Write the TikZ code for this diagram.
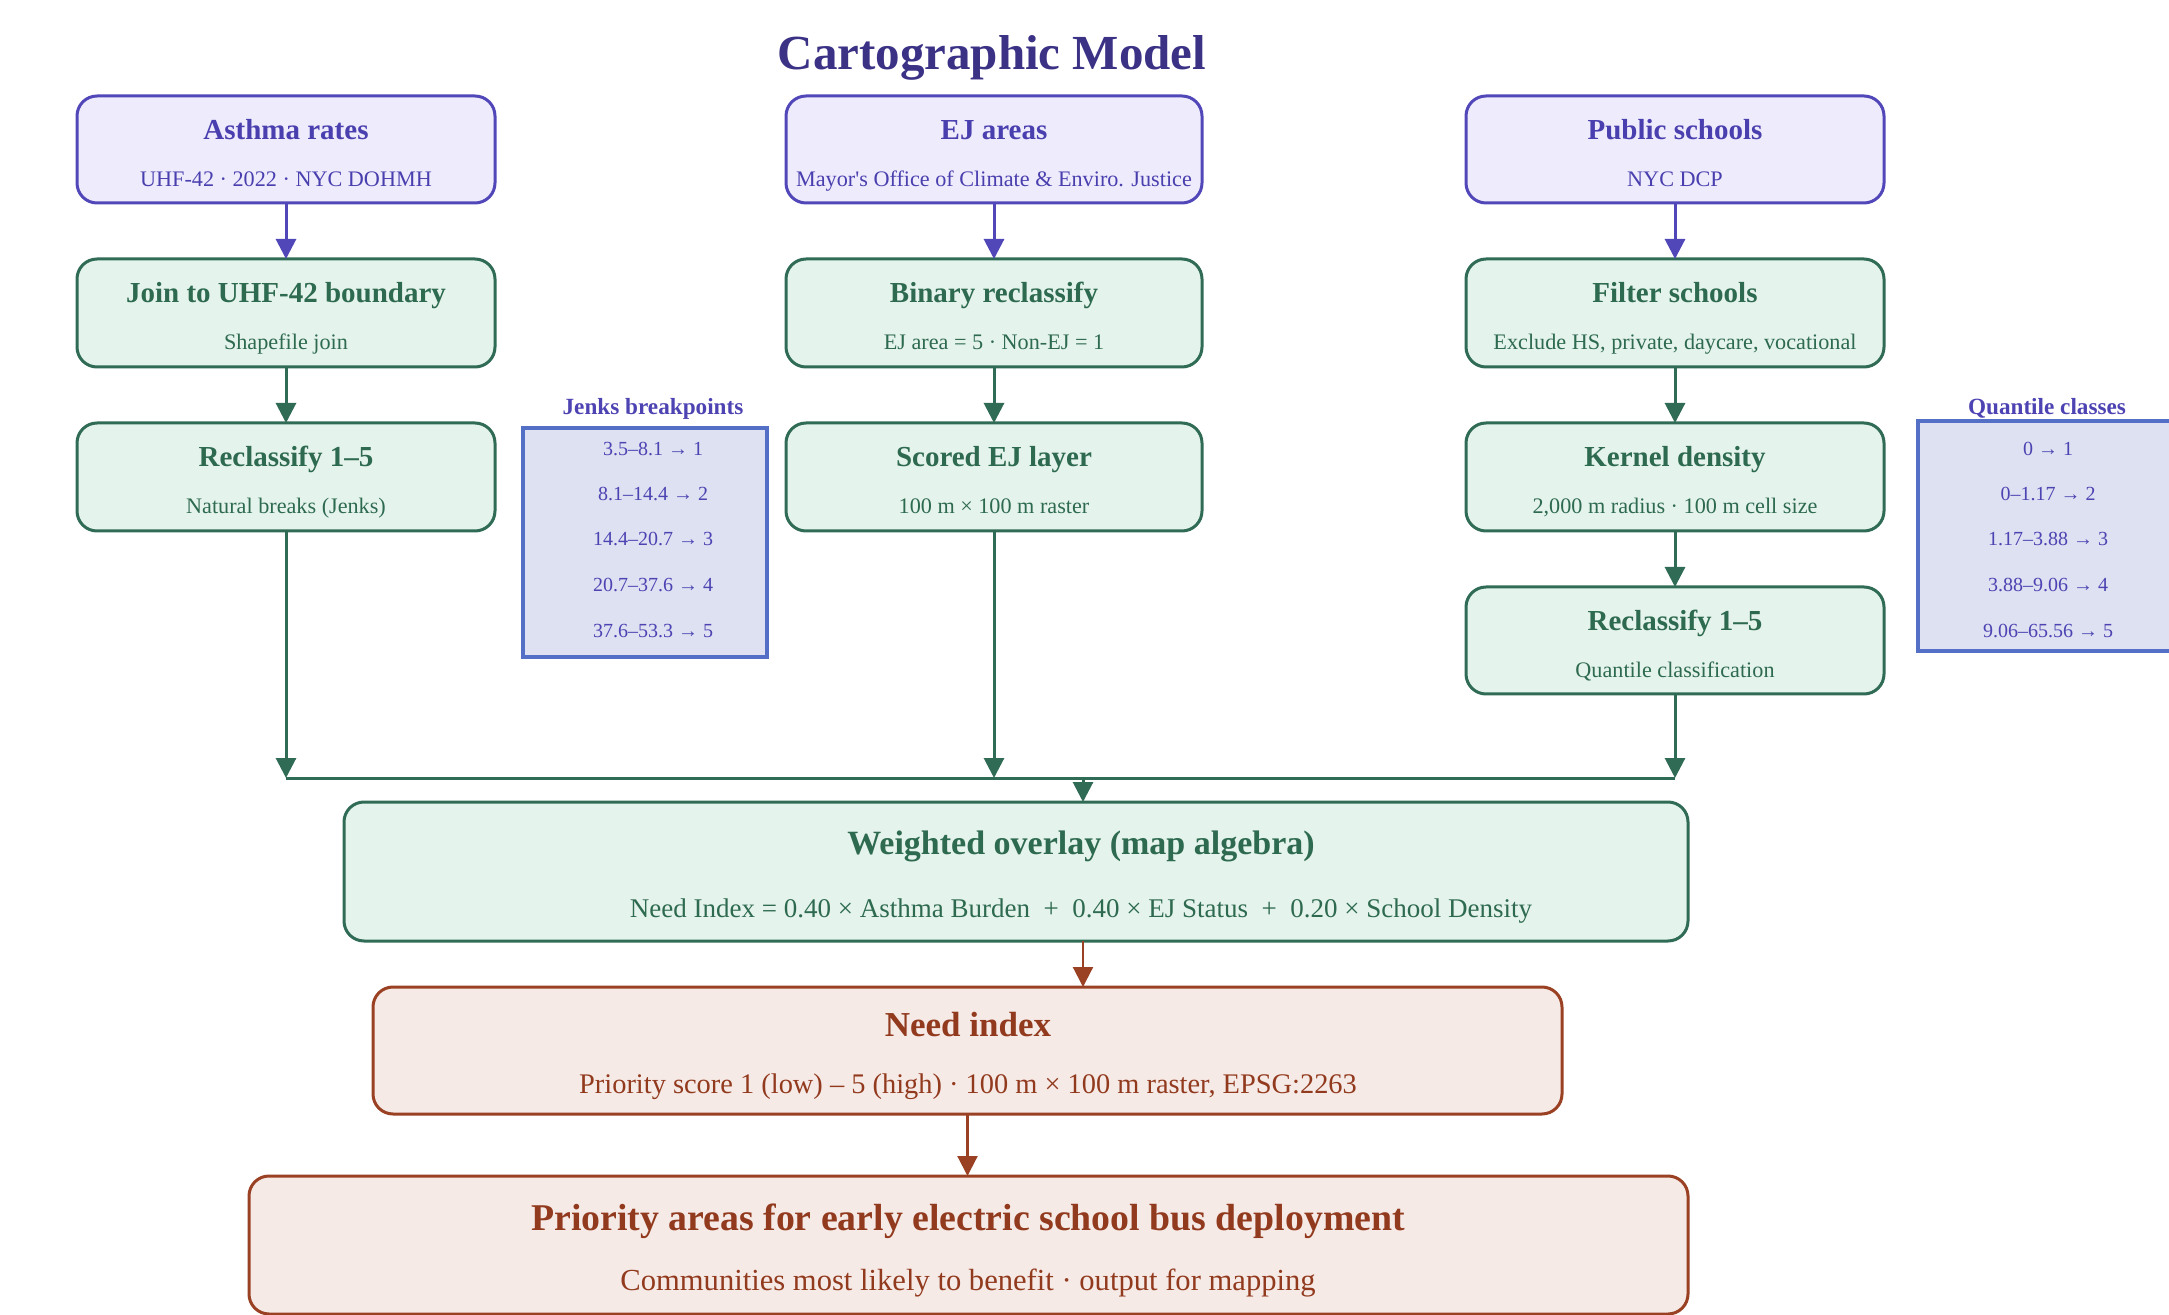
\documentclass[tikz,border=0pt]{standalone}
\usepackage{fontspec}
\setmainfont{Liberation Serif}
\usetikzlibrary{arrows.meta}
\definecolor{pstroke}{HTML}{5247B8}
\definecolor{pfill}{HTML}{EDEBFC}
\definecolor{ptext}{HTML}{4A3FAE}
\definecolor{ttext}{HTML}{3B3286}
\definecolor{gstroke}{HTML}{2F6B55}
\definecolor{gfill}{HTML}{E5F3ED}
\definecolor{gtext}{HTML}{2D6A4F}
\definecolor{rstroke}{HTML}{9A4124}
\definecolor{rfill}{HTML}{F6EAE6}
\definecolor{rtext}{HTML}{923A1E}
\definecolor{lstroke}{HTML}{5470C6}
\definecolor{lfill}{HTML}{DDE1F2}
\definecolor{ltext}{HTML}{4D43B2}
\begin{document}
\begin{tikzpicture}[x=0.5pt,y=-0.5pt,
  box/.style={line width=1.5pt, rounded corners=10pt, inner sep=0pt, outer sep=0pt},
  inbox/.style={box, draw=pstroke, fill=pfill},
  gbox/.style={box, draw=gstroke, fill=gfill},
  rbox/.style={box, draw=rstroke, fill=rfill},
  lgbox/.style={draw=lstroke, fill=lfill, line width=2pt, inner sep=0pt, outer sep=0pt},
  txt/.style={anchor=base, inner sep=0pt},
  ptitle/.style={txt, font=\bfseries\fontsize{14.5}{17}\selectfont, text=ptext},
  psub/.style={txt, font=\fontsize{11.1}{13}\selectfont, text=ptext},
  gtitle/.style={txt, font=\bfseries\fontsize{14.5}{17}\selectfont, text=gtext},
  gsub/.style={txt, font=\fontsize{11.1}{13}\selectfont, text=gtext},
  bigg/.style={txt, font=\bfseries\fontsize{17}{20}\selectfont, text=gtext},
  biggsub/.style={txt, font=\fontsize{13.5}{16}\selectfont, text=gtext},
  bigr/.style={txt, font=\bfseries\fontsize{17.5}{20}\selectfont, text=rtext},
  bigrsub/.style={txt, font=\fontsize{14.2}{17}\selectfont, text=rtext},
  ltitle/.style={txt, font=\bfseries\fontsize{11.6}{13}\selectfont, text=ltext},
  litem/.style={txt, font=\fontsize{10}{12}\selectfont, text=ltext},
  parr/.style={draw=pstroke, line width=1.5pt, -{Triangle[length=10pt,width=10pt]}},
  garr/.style={draw=gstroke, line width=1.5pt, -{Triangle[length=10pt,width=10pt]}},
  gline/.style={draw=gstroke, line width=1.5pt},
  rarr/.style={draw=rstroke, line width=1.1pt, -{Triangle[length=10pt,width=10pt]}},
]
\useasboundingbox (0,0) rectangle (2169,1315);

% title
\node[txt, font=\bfseries\fontsize{24.5}{28}\selectfont, text=ttext] (title) at (992,70) {Cartographic Model};

% left column
\node[inbox, minimum width={418*0.5pt}, minimum height={107*0.5pt}] (asthma) at (286,149.5) {};
\node[ptitle] (asthmaT) at (286,140) {Asthma rates};
\node[psub] (asthmaS) at (286,187) {UHF-42 · 2022 · NYC DOHMH};

\node[gbox, minimum width={418*0.5pt}, minimum height={108*0.5pt}] (join) at (286,313) {};
\node[gtitle] (joinT) at (286,303) {Join to UHF-42 boundary};
\node[gsub] (joinS) at (286,350) {Shapefile join};

\node[gbox, minimum width={418*0.5pt}, minimum height={108*0.5pt}] (recl) at (286,477) {};
\node[gtitle] (reclT) at (286,467) {Reclassify 1–5};
\node[gsub] (reclS) at (286,514) {Natural breaks (Jenks)};

% middle column
\node[inbox, minimum width={416*0.5pt}, minimum height={107*0.5pt}] (ej) at (994,149.5) {};
\node[ptitle] (ejT) at (994,140) {EJ areas};
\node[psub] (ejS) at (994,187) {Mayor\textquotesingle s Office of Climate \& Enviro. Justice};

\node[gbox, minimum width={416*0.5pt}, minimum height={108*0.5pt}] (binary) at (994,313) {};
\node[gtitle] (binaryT) at (994,303) {Binary reclassify};
\node[gsub] (binaryS) at (994,350) {EJ area = 5 · Non-EJ = 1};

\node[gbox, minimum width={416*0.5pt}, minimum height={108*0.5pt}] (scored) at (994,477) {};
\node[gtitle] (scoredT) at (994,467) {Scored EJ layer};
\node[gsub] (scoredS) at (994,514) {100 m × 100 m raster};

% right column
\node[inbox, minimum width={418*0.5pt}, minimum height={107*0.5pt}] (schools) at (1675,149.5) {};
\node[ptitle] (schoolsT) at (1675,140) {Public schools};
\node[psub] (schoolsS) at (1675,187) {NYC DCP};

\node[gbox, minimum width={418*0.5pt}, minimum height={108*0.5pt}] (filter) at (1675,313) {};
\node[gtitle] (filterT) at (1675,303) {Filter schools};
\node[gsub] (filterS) at (1675,350) {Exclude HS, private, daycare, vocational};

\node[gbox, minimum width={418*0.5pt}, minimum height={108*0.5pt}] (kernel) at (1675,477) {};
\node[gtitle] (kernelT) at (1675,467) {Kernel density};
\node[gsub] (kernelS) at (1675,514) {2,000 m radius · 100 m cell size};

\node[gbox, minimum width={418*0.5pt}, minimum height={107*0.5pt}] (recl2) at (1675,640.5) {};
\node[gtitle] (recl2T) at (1675,631) {Reclassify 1–5};
\node[gsub] (recl2S) at (1675,678) {Quantile classification};

% legends
\node[ltitle] (jenksT) at (653,415) {Jenks breakpoints};
\node[lgbox, minimum width={244*0.5pt}, minimum height={229*0.5pt}] (jenks) at (645,542.5) {};
\node[litem] (j1) at (653,456) {3.5–8.1 → 1};
\node[litem] (j2) at (653,501) {8.1–14.4 → 2};
\node[litem] (j3) at (653,546) {14.4–20.7 → 3};
\node[litem] (j4) at (653,592) {20.7–37.6 → 4};
\node[litem] (j5) at (653,638) {37.6–53.3 → 5};

\node[ltitle] (quantT) at (2047,415) {Quantile classes};
\node[lgbox, minimum width={262*0.5pt}, minimum height={230*0.5pt}] (quant) at (2049,536) {};
\node[litem] (q1) at (2048,456) {0 → 1};
\node[litem] (q2) at (2048,501) {0–1.17 → 2};
\node[litem] (q3) at (2048,546) {1.17–3.88 → 3};
\node[litem] (q4) at (2048,592) {3.88–9.06 → 4};
\node[litem] (q5) at (2048,638) {9.06–65.56 → 5};

% overlay and outputs
\node[gbox, minimum width={1344*0.5pt}, minimum height={139*0.5pt}] (weighted) at (1016,871.5) {};
\node[bigg] (weightedT) at (1081,854) {Weighted overlay (map algebra)};
\node[biggsub] (weightedS) at (1081,917) {Need Index = 0.40 × Asthma Burden\enspace+\enspace0.40 × EJ Status\enspace+\enspace0.20 × School Density};

\node[rbox, minimum width={1189*0.5pt}, minimum height={127*0.5pt}] (need) at (967.5,1050.5) {};
\node[bigr] (needT) at (968,1036) {Need index};
\node[bigrsub] (needS) at (968,1093) {Priority score 1 (low) – 5 (high) · 100 m × 100 m raster, EPSG:2263};

\node[rbox, minimum width={1439*0.5pt}, minimum height={138*0.5pt}] (final) at (968.5,1245) {};
\node[bigr, font=\bfseries\fontsize{18.9}{22}\selectfont] (finalT) at (968,1230) {Priority areas for early electric school bus deployment};
\node[bigrsub, font=\fontsize{15.3}{18}\selectfont] (finalS) at (968,1290) {Communities most likely to benefit · output for mapping};

% connectors
\draw[parr] (asthma) -- (join);
\draw[parr] (ej) -- (binary);
\draw[parr] (schools) -- (filter);
\draw[garr] (join) -- (recl);
\draw[garr] (binary) -- (scored);
\draw[garr] (filter) -- (kernel);
\draw[garr] (kernel) -- (recl2);

\coordinate (bus) at (1083,778);
\draw[garr] (recl.south) -- (recl.south |- bus);
\draw[garr] (scored.south) -- (scored.south |- bus);
\draw[garr] (recl2.south) -- (recl2.south |- bus);
\draw[gline] (recl.south |- bus) -- (recl2.south |- bus);
\draw[garr] (bus) -- (bus |- weighted.north);
\draw[rarr] (bus |- weighted.south) -- (bus |- need.north);
\draw[rarr] (need.south) -- (need.south |- final.north);
\end{tikzpicture}
\end{document}
